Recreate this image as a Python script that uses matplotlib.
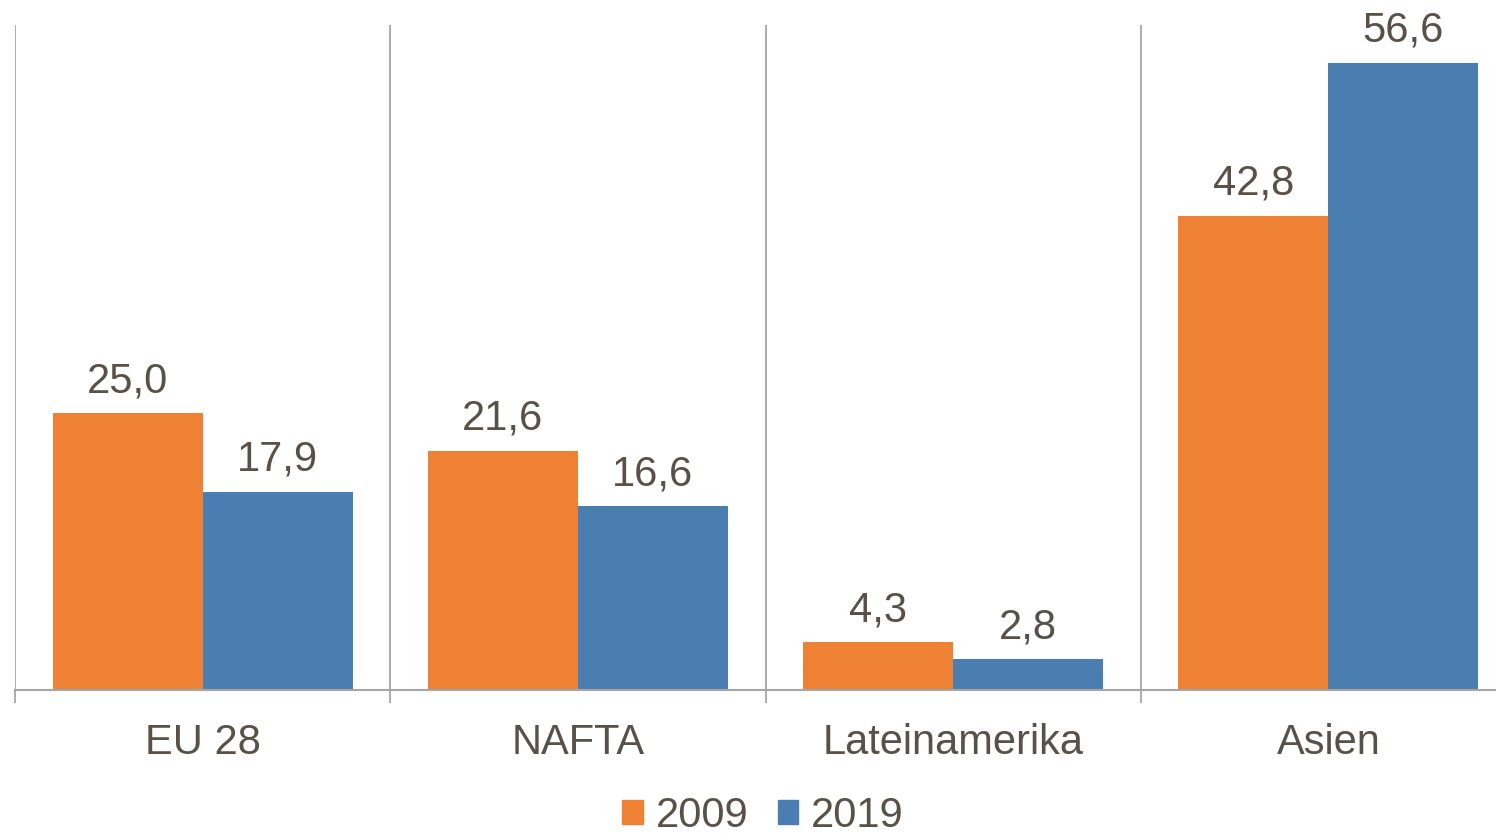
import matplotlib
matplotlib.use('Agg')
import matplotlib.pyplot as plt
import numpy as np
from matplotlib.patches import Patch

categories = ['EU 28', 'NAFTA', 'Lateinamerika', 'Asien']
v2009 = [25.0, 21.6, 4.3, 42.8]
v2019 = [17.9, 16.6, 2.8, 56.6]
years = ['2009', '2019']

orange = '#EE8133'
blue = '#4A7EB1'
txt = '#595048'
gray = '#A6A6A6'

plt.rcParams['font.family'] = ['Liberation Sans', 'DejaVu Sans']

fig = plt.figure(figsize=(14.96, 8.34), dpi=100)
ax = fig.add_axes((15 / 1496, 144 / 834, 1501 / 1496, 665 / 834))

x = np.arange(len(categories))
w = 0.4
b1 = ax.bar(x - w / 2, v2009, w, color=orange, zorder=3)
b2 = ax.bar(x + w / 2, v2019, w, color=blue, zorder=3)

for bars, vals in ((b1, v2009), (b2, v2019)):
    for r, v in zip(bars, vals):
        ax.annotate(f'{v:.1f}'.replace('.', ','),
                    (r.get_x() + r.get_width() / 2, v),
                    xytext=(0, 8.5), textcoords='offset points',
                    ha='center', va='bottom', fontsize=30, color=txt)

ax.set_xlim(-0.5, 3.5)
ax.set_ylim(0, 60)

# group separators
ax.set_xticks(np.arange(-0.5, 3.5, 1.0))
ax.set_xticklabels([])
ax.tick_params(axis='x', which='major', length=9.5, width=1.3, color=gray, direction='out')
ax.grid(axis='x', which='major', color=gray, linewidth=1.3, zorder=0)

ax.set_xticks(x, minor=True)
ax.set_xticklabels(categories, minor=True)
ax.tick_params(axis='x', which='minor', length=0, pad=23.5, labelsize=30, labelcolor=txt)

ax.set_yticks([])
for s in ('left', 'right', 'top'):
    ax.spines[s].set_visible(False)
ax.spines['bottom'].set_color(gray)
ax.spines['bottom'].set_linewidth(1.5)
ax.spines['bottom'].set_zorder(4)

handles = [Patch(color=orange), Patch(color=blue)]
fig.legend(handles, years, loc='lower center', bbox_to_anchor=(0.51, -0.047),
           ncol=2, frameon=False, fontsize=30, labelcolor=txt,
           handlelength=0.5, handleheight=0.5, handletextpad=0.3, columnspacing=0.7)

fig.savefig('out.png', dpi=100)
